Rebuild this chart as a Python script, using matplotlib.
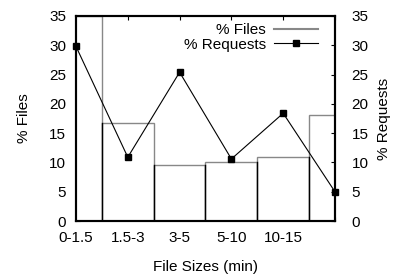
import matplotlib.pyplot as plt
from matplotlib.lines import Line2D

plt.rcParams['font.family'] = ['Liberation Sans', 'DejaVu Sans']

# Data
size_labels = ['0-1.5', '1.5-3', '3-5', '5-10', '10-15', '']
pct_files = [35.0, 16.7, 9.5, 10.0, 10.9, 18.1]
pct_requests = [29.8, 10.9, 25.4, 10.6, 18.4, 5.0]

x = list(range(len(size_labels)))
fs = 11

fig = plt.figure(figsize=(3.95, 2.75), dpi=100)
ax = fig.add_axes([0.1924, 0.196, 0.6557, 0.746])

ax.bar(x, pct_files, width=1.0, color='white', edgecolor='#888888', linewidth=1.0, zorder=2)
# shared bar edges look darker (drawn twice)
for i in range(len(x) - 1):
    ax.plot([i + 0.5, i + 0.5], [0, min(pct_files[i], pct_files[i + 1])],
            color='black', linewidth=1.0, zorder=3)

ax.set_xlim(0, 5)
ax.set_ylim(0, 35)
ax.set_xticks(x)
ax.set_xticklabels(size_labels)
ax.set_yticks(range(0, 36, 5))
ax.tick_params(axis='y', direction='in', labelsize=fs, length=3, width=0.8, pad=7)
ax.tick_params(axis='x', direction='in', labelsize=fs, length=3, width=0.8,
               top=True, pad=7)
for s in ax.spines.values():
    s.set_linewidth(1.5)
ax.set_ylabel('% Files', fontsize=fs, labelpad=13)
ax.set_xlabel('File Sizes (min)', fontsize=fs, labelpad=11)

ax2 = ax.twinx()
ax2.plot(x, pct_requests, color='black', linewidth=0.8, marker='s', markersize=5,
         clip_on=False, zorder=5)
ax2.set_ylim(0, 35)
ax2.set_yticks(range(0, 36, 5))
ax2.tick_params(axis='y', direction='in', labelsize=fs, length=3, width=0.8, pad=12)
ax2.set_ylabel('% Requests', fontsize=fs, labelpad=6)
for s in ax2.spines.values():
    s.set_linewidth(1.5)

handles = [Line2D([], [], color='#888888', linewidth=1.5),
           Line2D([], [], color='black', linewidth=0.8, marker='s', markersize=5)]
ax2.legend(handles, ['% Files', '% Requests'], loc='upper right', frameon=False,
           markerfirst=False, fontsize=fs, handlelength=2.9, handletextpad=0.5,
           borderaxespad=0.2, labelspacing=0.05, bbox_to_anchor=(0.97, 1.01))

fig.savefig('out.png', dpi=100)
